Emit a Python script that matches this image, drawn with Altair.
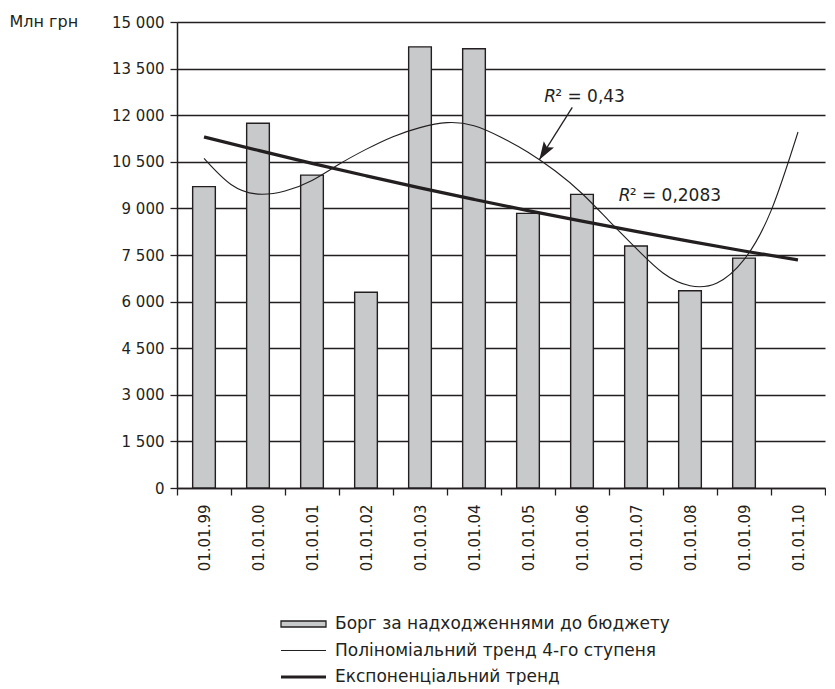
import altair as alt
import pandas as pd

# ---------------- data ----------------
dates = ["01.01.99", "01.01.00", "01.01.01", "01.01.02", "01.01.03", "01.01.04",
         "01.01.05", "01.01.06", "01.01.07", "01.01.08", "01.01.09", "01.01.10"]
debt = [9700, 11740, 10070, 6300, 14200, 14140, 8840, 9450, 7790, 6350, 7400, None]

# trend curves (position = category number, 1 = 01.01.99)
poly_pos = [1.0, 1.5, 2.0, 2.5, 3.0, 3.5, 4.0, 4.5, 5.0, 5.5, 6.0, 6.5,
            7.0, 7.5, 8.0, 8.5, 9.0, 9.5, 10.0, 10.5, 11.0, 11.5, 12.0]
poly_val = [10610, 9770, 9460, 9560, 9900, 10420, 10900, 11310, 11600, 11760, 11660, 11290,
            10810, 10210, 9480, 8600, 7720, 6920, 6510, 6600, 7350, 8920, 11460]

exp_pos = [1, 2, 3, 4, 5, 6, 7, 8, 9, 10, 11, 12]
exp_val = [11300, 10870, 10450, 10050, 9660, 9290, 8930, 8590, 8260, 7940, 7630, 7340]

y_ticks = [0, 1500, 3000, 4500, 6000, 7500, 9000, 10500, 12000, 13500, 15000]

legend_labels = ["Борг за надходженнями до бюджету",
                 "Поліноміальний тренд 4-го ступеня",
                 "Експоненціальний тренд"]

# annotations (category number, value)
r2_labels_pos = [7.30, 8.68]
r2_labels_val = [12430, 9240]
r2_values = ["² = 0,43", "² = 0,2083"]
arrow_from = (7.82, 12250)
arrow_to = (7.21, 10570)

# ---------------- style ----------------
FONT = "DejaVu Sans"
INK = "#231f20"
BAR_FILL = "#c8c9cb"
W, H = 648, 466

yscale = alt.Scale(domain=[0, 15000], nice=False, zero=True)
xq = alt.Scale(domain=[0.5, 12.5], nice=False, zero=False)

yaxis = alt.Axis(
    values=y_ticks, title="Млн грн", format=",d",
    labelExpr="replace(datum.label, ',', ' ')",
    grid=True, gridColor=INK, gridWidth=1.3, gridOpacity=1,
    domainColor=INK, domainWidth=1.5, tickColor=INK, tickWidth=1.3, tickSize=7,
    labelPadding=6, labelFont=FONT, labelFontSize=15, labelColor=INK,
    titleAngle=0, titleAlign="left", titleBaseline="middle", titleX=-168, titleY=-1,
    titleFont=FONT, titleFontSize=16, titleFontWeight="normal", titleColor=INK,
)


def Y(field):
    return alt.Y(field, type="quantitative", scale=yscale, axis=yaxis)


def XQ(field):
    return alt.X(field, type="quantitative", scale=xq, axis=None)


bars_df = pd.DataFrame({"date": dates, "debt": debt})
poly_df = pd.DataFrame({"pos": poly_pos, "val": poly_val})
exp_df = pd.DataFrame({"pos": exp_pos, "val": exp_val})
r2_df = pd.DataFrame({"pos": r2_labels_pos, "val": r2_labels_val, "txt": r2_values})
arrow_df = pd.DataFrame({"x1": [arrow_from[0]], "y1": [arrow_from[1]],
                         "x2": [arrow_to[0]], "y2": [arrow_to[1]]})
legend_df = pd.DataFrame({"series": legend_labels, "v": [None, None, None]})

bars = alt.Chart(bars_df).mark_bar(
    width=alt.RelativeBandSize(0.42), fill=BAR_FILL, stroke=INK, strokeWidth=1.4
).encode(
    x=alt.X("date:N", sort=dates,
            scale=alt.Scale(domain=dates, paddingInner=0, paddingOuter=0),
            axis=alt.Axis(title=None, labelAngle=270, tickBand="extent", grid=False,
                          domainColor=INK, domainWidth=1.5, tickColor=INK, tickWidth=1.3,
                          tickSize=7, labelPadding=9, labelFont=FONT, labelFontSize=15,
                          labelColor=INK)),
    y=Y("debt"),
)

poly = alt.Chart(poly_df).mark_line(color=INK, strokeWidth=1.1, interpolate="natural").encode(
    x=XQ("pos"), y=Y("val"))

expo = alt.Chart(exp_df).mark_line(color=INK, strokeWidth=3.2, interpolate="monotone").encode(
    x=XQ("pos"), y=Y("val"))

r_italic = alt.Chart(r2_df).mark_text(
    text="R", align="left", baseline="alphabetic", font=FONT, fontSize=17,
    fontStyle="italic", color=INK
).encode(x=XQ("pos"), y=Y("val"))

r_rest = alt.Chart(r2_df).mark_text(
    align="left", baseline="alphabetic", font=FONT, fontSize=17, color=INK, dx=11
).encode(x=XQ("pos"), y=Y("val"), text="txt:N")

arrow_line = alt.Chart(arrow_df).mark_rule(color=INK, strokeWidth=1.3).encode(
    x=XQ("x1"), y=Y("y1"), x2="x2", y2="y2")

arrow_head = alt.Chart(arrow_df).mark_point(
    shape="M0,0 L0.6,1.8 L0,1.45 L-0.6,1.8 Z", filled=True, size=400,
    fill=INK, strokeWidth=0, opacity=1, angle=212
).encode(x=XQ("x2"), y=Y("y2"))

leg = alt.Legend(title=None, orient="none", legendX=128, legendY=591, direction="vertical",
                 labelFont=FONT, labelFontSize=17, labelColor=INK, labelOffset=8,
                 symbolSize=400, symbolStrokeWidth=1.3, symbolOpacity=1, rowPadding=7.5,
                 labelLimit=700)

legend_layer = alt.Chart(legend_df).mark_point(filled=True, size=400, strokeWidth=1.3, opacity=1).encode(
    y=Y("v"),
    fill=alt.Fill("series:N", scale=alt.Scale(domain=legend_labels,
                                              range=[BAR_FILL, INK, INK]), legend=leg),
    stroke=alt.Stroke("series:N", scale=alt.Scale(domain=legend_labels,
                                                  range=[INK, "transparent", "transparent"]), legend=leg),
    shape=alt.Shape("series:N", scale=alt.Scale(domain=legend_labels, range=[
        "M-3.5,-0.3H1V0.3H-3.5Z",
        "M-3.5,-0.06H1V0.06H-3.5Z",
        "M-3.5,-0.16H1V0.16H-3.5Z"]), legend=leg),
)

chart = alt.layer(
    bars, poly, expo, arrow_line, arrow_head, r_italic, r_rest, legend_layer
).resolve_scale(x="independent").properties(
    width=W, height=H, background="white",
    padding={"left": 1, "top": 5, "right": 0, "bottom": 0},
).configure_view(stroke=None)

chart.save("out.html", embed_options={"renderer": "svg", "actions": False})
